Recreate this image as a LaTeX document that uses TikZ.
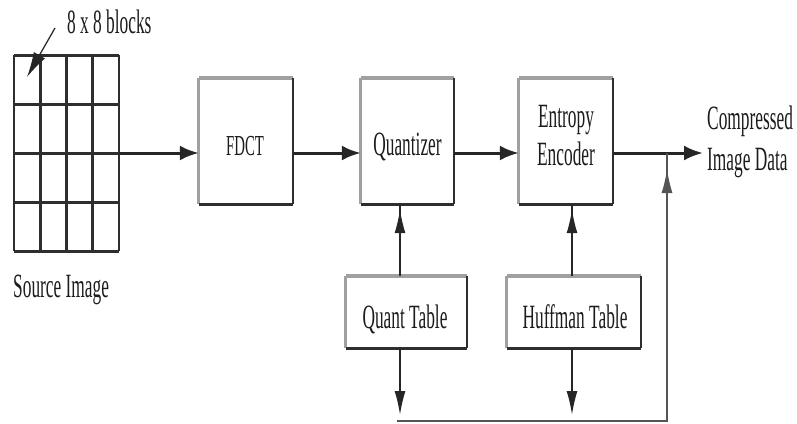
\documentclass[tikz,border=0pt]{standalone}
\usepackage{fontspec}
\newfontfamily\diagfont[FakeStretch=0.51]{Liberation Serif}
\usetikzlibrary{arrows.meta}

\definecolor{ink}{HTML}{1C1C1C}
\definecolor{rimlight}{HTML}{A0A0A0}
\definecolor{rimdark}{HTML}{2E2E2E}
\definecolor{wire}{HTML}{262626}
\definecolor{returnwire}{HTML}{555555}

\tikzset{
  stage/.style={draw=none, fill=white, inner sep=0pt},
  caption/.style={font=\diagfont\fontsize{34}{40}\selectfont, text=ink, inner sep=0pt},
  smallcaption/.style={caption, font=\diagfont\fontsize{29}{34}\selectfont},
  gridline/.style={draw=rimdark, line width=2.6pt, line cap=square},
  mainwire/.style={draw=wire, line width=3pt},
  mainhead/.style={mainwire, -{Latex[length=19pt,width=15pt]}},
  sidewire/.style={draw=wire, line width=1.7pt},
  sidehead/.style={sidewire, -{Latex[length=24pt,width=11pt]}},
  returnline/.style={draw=returnwire, line width=1.4pt},
  pointer/.style={draw=wire, line width=1.3pt, -{Latex[length=25pt,width=13pt]}},
}

% raised frame: light top/left rim, dark bottom/right rim
\newcommand\bevelbox[1]{%
  \draw[rimlight, line width=3pt] (#1.south west) -- (#1.north west);
  \draw[rimlight, line width=4.5pt, line cap=square] (#1.north west) -- (#1.north east);
  \draw[rimdark, line width=2.5pt, line cap=square] (#1.north east) -- (#1.south east);
  \draw[rimdark, line width=3.2pt, line cap=square] (#1.south east) -- (#1.south west);
}

\begin{document}
\begin{tikzpicture}[x=1pt, y=-1pt]
\useasboundingbox (0,0) rectangle (797,423);

% source image as a grid of blocks
\foreach \gx in {14,40.25,66.5,92.75,119}
  \draw[gridline] (\gx,55) -- (\gx,251);
\foreach \gy in {55,104,153,202,251}
  \draw[gridline, line width=3pt] (14,\gy) -- (119,\gy);

\node[caption, anchor=base west] (blk) at (67,33) {8 x 8 blocks};
\node[caption, anchor=base west] (src) at (13,297) {Source Image};
\coordinate (blkfrom) at (55,28);
\coordinate (blkto) at (27,77);
\draw[pointer] (blkfrom) -- (blkto);

% processing stages
\node[stage, minimum width=94pt, minimum height=126pt] (fdct)  at (246,141) {};
\node[stage, minimum width=93pt, minimum height=126pt] (quant) at (407.5,141) {};
\node[stage, minimum width=94pt, minimum height=126pt] (ent)   at (566,141) {};
\node[stage, minimum width=121pt, minimum height=72pt] (qt)    at (406.5,312) {};
\node[stage, minimum width=134pt, minimum height=72pt] (ht)    at (574,312) {};
\bevelbox{fdct}
\bevelbox{quant}
\bevelbox{ent}
\bevelbox{qt}
\bevelbox{ht}

\node[smallcaption, anchor=base] (fdct-t)  at (245,155) {FDCT};
\node[caption, anchor=base] (quant-t) at (407.5,155) {Quantizer};
\node[caption, anchor=base] (ent-t1)  at (566,127) {Entropy};
\node[caption, anchor=base] (ent-t2)  at (566,165) {Encoder};
\node[caption, anchor=base] (qt-t)    at (405,328) {Quant Table};
\node[caption, anchor=base] (ht-t)    at (575,328) {Huffman Table};
\node[caption, anchor=base west] (out-t1) at (707,129) {Compressed};
\node[caption, anchor=base west] (out-t2) at (707,170) {Image Data};

% main data path
\coordinate (row)   at (0,153);
\coordinate (gridE) at (119,153);
\coordinate (jn)    at (667,153);
\coordinate (out)   at (703,153);
\draw[mainhead] (gridE) -- (fdct.west |- row);
\draw[mainhead] (fdct.east |- row) -- (quant.west |- row);
\draw[mainhead] (quant.east |- row) -- (ent.west |- row);
\draw[mainwire] (ent.east |- row) -- (jn);
\draw[mainhead] (jn) -- (out);

% table connections
\coordinate (qcol)  at (400,0);
\coordinate (hcol)  at (572,0);
\coordinate (floor) at (0,421);
\draw[sidewire] (qt.north -| qcol) -- (quant.south -| qcol);
\draw[sidehead, shorten >=5pt] (qt.north -| qcol) -- (quant.south -| qcol);
\draw[sidewire] (ht.north -| hcol) -- (ent.south -| hcol);
\draw[sidehead, shorten >=5pt] (ht.north -| hcol) -- (ent.south -| hcol);
\draw[sidehead, shorten >=6pt] (qt.south -| qcol) -- (qcol |- floor);
\draw[sidehead, shorten >=6pt] (ht.south -| hcol) -- (hcol |- floor);

% return path to the output line
\draw[returnline] ([xshift=-3pt]qcol |- floor) -- (jn |- floor) -- (jn);
\draw[sidehead, draw=returnwire, shorten >=16pt] (jn |- floor) -- (jn);
\end{tikzpicture}
\end{document}
